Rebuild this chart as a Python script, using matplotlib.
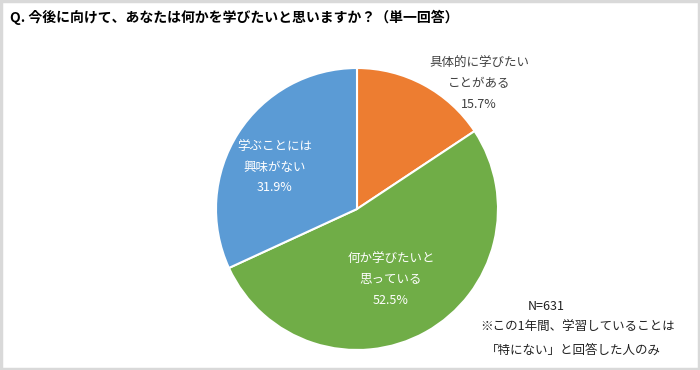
import matplotlib.pyplot as plt
from matplotlib.patches import Rectangle

plt.rcParams['font.family'] = ['Noto Sans CJK JP', 'DejaVu Sans']

# data
labels = ['具体的に学びたい\nことがある', '何か学びたいと\n思っている', '学ぶことには\n興味がない']
values = [15.7, 52.5, 31.9]
colors = ['#ED7D31', '#70AD47', '#5B9BD5']
title = 'Q. 今後に向けて、あなたは何かを学びたいと思いますか？（単一回答）'
note_n = 'N=631'
note_lines = ['※この1年間、学習していることは', '「特にない」と回答した人のみ']

fig = plt.figure(figsize=(7, 3.7), dpi=100)
ax = fig.add_axes([0, 0, 1, 1])

# outer gray frame
ax.add_patch(Rectangle((1, 1), 698, 368, fill=False, edgecolor='#d9d9d9', linewidth=2.5))

ax.pie(values, colors=colors, startangle=90, counterclock=False,
       center=(357, 161), radius=141, frame=True,
       wedgeprops={'edgecolor': 'white', 'linewidth': 1.5})
ax.set_xlim(0, 700)
ax.set_ylim(0, 370)
ax.axis('off')

# label positions (pixel coords from top)
label_pos = [(479, 84), (391, 280), (275, 167)]
label_col = ['#404040', 'white', 'white']
for lab, v, (x, y), c in zip(labels, values, label_pos, label_col):
    ax.text(x, 370 - y, lab + '\n' + f'{v}%', ha='center', va='center',
            fontsize=9, color=c, linespacing=1.75)

ax.text(10, 370 - 17, title, ha='left', va='center', fontsize=10,
        fontweight='bold', color='black')

ax.text(528, 370 - 306, note_n, ha='left', va='center', fontsize=9, color='#222222')
ax.text(578, 370 - 327, note_lines[0], ha='center', va='center', fontsize=9, color='#222222')
ax.text(573, 370 - 350, note_lines[1], ha='center', va='center', fontsize=9, color='#222222')

fig.savefig('out.png', dpi=100)
